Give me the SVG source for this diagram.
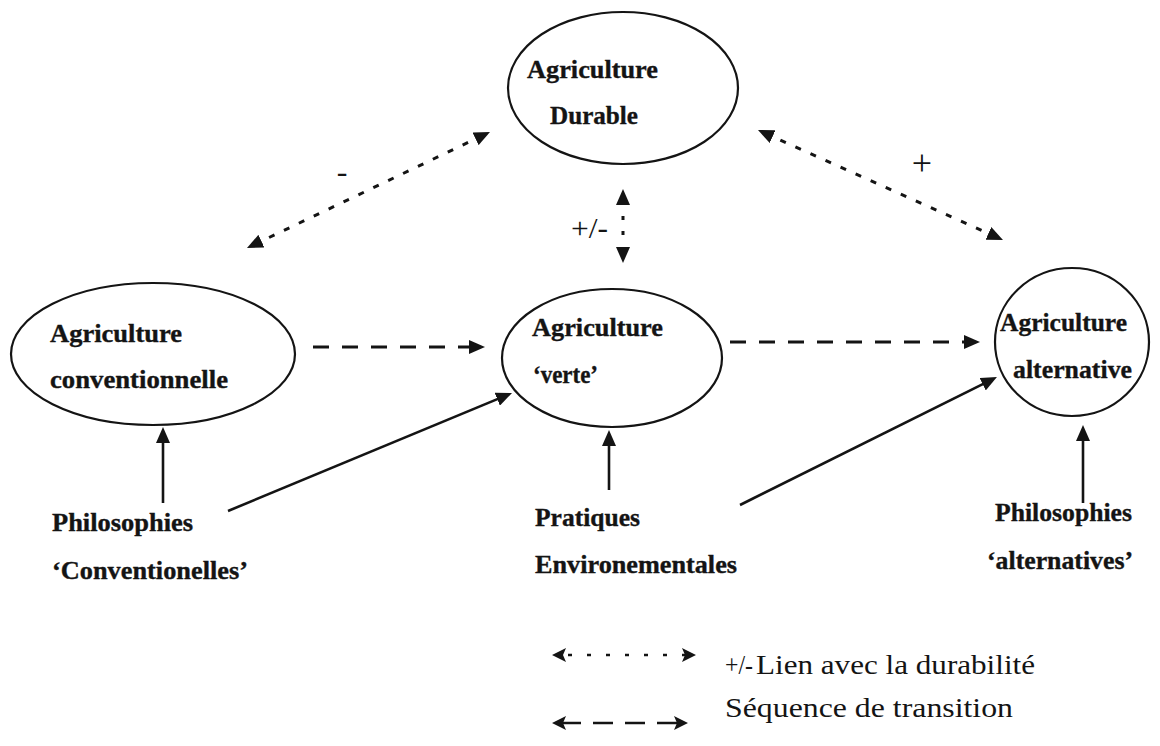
<svg xmlns="http://www.w3.org/2000/svg" width="1160" height="746" viewBox="0 0 1160 746">
  <style>
    .node { fill: none; stroke: #141414; stroke-width: 2.2; }
    .lbl { font-family: "Liberation Serif", "Times New Roman", serif; font-weight: bold; font-size: 25px; fill: #141414; stroke: #141414; stroke-width: 0.35; }
    .sign { font-family: "Liberation Serif", "Times New Roman", serif; fill: #141414; }
    .leg { font-family: "Liberation Serif", "Times New Roman", serif; font-size: 28px; fill: #141414; }
    .solid { stroke: #141414; stroke-width: 2.6; fill: none; }
    .dash { stroke: #141414; stroke-width: 3; fill: none; stroke-dasharray: 16 13; }
    .dot { stroke: #141414; stroke-width: 3; fill: none; stroke-dasharray: 6 10.5; }
  </style>
  <defs>
    <marker id="ah" viewBox="0 0 16 14" refX="8" refY="7" markerWidth="16" markerHeight="14" markerUnits="userSpaceOnUse" orient="auto-start-reverse">
      <path d="M0,0 L16,7 L0,14 Z" fill="#141414"/>
    </marker>
    <marker id="ahs" viewBox="0 0 14 14" refX="5" refY="7" markerWidth="14" markerHeight="14" markerUnits="userSpaceOnUse" orient="auto-start-reverse">
      <path d="M0,0 L14,7 L0,14 L3,7 Z" fill="#141414"/>
    </marker>
  </defs>

  <rect width="1160" height="746" fill="#ffffff"/>

  <!-- connectors -->
  <g id="connectors">
    <!-- sustainability links (dotted, both ends) -->
    <line class="dot" x1="254.2" y1="244.6" x2="482.8" y2="135.4" marker-start="url(#ah)" marker-end="url(#ah)"/>
    <line class="dot" x1="765.3" y1="133.3" x2="995.7" y2="236.7" marker-start="url(#ah)" marker-end="url(#ah)"/>
    <path d="M623,197 L623,255" stroke="#141414" stroke-width="3" fill="none" stroke-dasharray="0 19 4 11 4 100" marker-start="url(#ah)" marker-end="url(#ah)"/>
    <!-- transition sequence (dashed) -->
    <line class="dash" x1="313" y1="347" x2="477" y2="347" marker-end="url(#ah)"/>
    <line class="dash" x1="730" y1="342" x2="972" y2="342" marker-end="url(#ah)"/>
    <!-- influences (solid) -->
    <line class="solid" x1="163" y1="503" x2="163" y2="435" marker-end="url(#ah)"/>
    <line class="solid" x1="228" y1="511" x2="504.6" y2="396.1" marker-end="url(#ah)"/>
    <line class="solid" x1="609" y1="490" x2="609" y2="438" marker-end="url(#ah)"/>
    <line class="solid" x1="740" y1="505" x2="989.8" y2="380.6" marker-end="url(#ah)"/>
    <line class="solid" x1="1083" y1="503" x2="1083" y2="433" marker-end="url(#ah)"/>
    <!-- signs on links -->
    <text class="sign" x="342" y="182" font-size="32" text-anchor="middle">-</text>
    <text class="sign" x="922" y="175" font-size="36" text-anchor="middle">+</text>
    <text class="sign" x="571" y="238" font-size="30" textLength="37" lengthAdjust="spacingAndGlyphs">+/-</text>
  </g>

  <g id="durable">
    <ellipse class="node" cx="623" cy="88" rx="115" ry="76"/>
    <text class="lbl" x="527" y="78" textLength="131" lengthAdjust="spacingAndGlyphs">Agriculture</text>
    <text class="lbl" x="550" y="124" textLength="88" lengthAdjust="spacingAndGlyphs">Durable</text>
  </g>

  <g id="conventionnelle">
    <ellipse class="node" cx="153" cy="354" rx="142" ry="71"/>
    <text class="lbl" x="50" y="342" textLength="132" lengthAdjust="spacingAndGlyphs">Agriculture</text>
    <text class="lbl" x="50" y="388" textLength="178" lengthAdjust="spacingAndGlyphs">conventionnelle</text>
  </g>

  <g id="verte">
    <ellipse class="node" cx="612" cy="358" rx="110" ry="69"/>
    <text class="lbl" x="532" y="336" textLength="131" lengthAdjust="spacingAndGlyphs">Agriculture</text>
    <text class="lbl" x="533" y="383" textLength="65" lengthAdjust="spacingAndGlyphs">‘verte’</text>
  </g>

  <g id="alternative">
    <ellipse class="node" cx="1072" cy="342" rx="77" ry="74"/>
    <text class="lbl" x="1000" y="331" textLength="127" lengthAdjust="spacingAndGlyphs">Agriculture</text>
    <text class="lbl" x="1013" y="378" textLength="119" lengthAdjust="spacingAndGlyphs">alternative</text>
  </g>

  <g id="philo-conv">
    <text class="lbl" x="52" y="531" textLength="141" lengthAdjust="spacingAndGlyphs">Philosophies</text>
    <text class="lbl" x="52" y="579" textLength="196" lengthAdjust="spacingAndGlyphs">‘Conventionelles’</text>
  </g>

  <g id="pratiques">
    <text class="lbl" x="535" y="526" textLength="105" lengthAdjust="spacingAndGlyphs">Pratiques</text>
    <text class="lbl" x="535" y="573" textLength="202" lengthAdjust="spacingAndGlyphs">Environementales</text>
  </g>

  <g id="philo-alt">
    <text class="lbl" x="995" y="521" textLength="137" lengthAdjust="spacingAndGlyphs">Philosophies</text>
    <text class="lbl" x="987" y="569" textLength="146" lengthAdjust="spacingAndGlyphs">‘alternatives’</text>
  </g>

  <g id="legend">
    <line x1="561" y1="655" x2="687" y2="655" stroke="#141414" stroke-width="2.6" stroke-dasharray="0 7 4 8" marker-start="url(#ahs)" marker-end="url(#ahs)"/>
    <text class="leg" x="725" y="674" font-size="31" textLength="28" lengthAdjust="spacingAndGlyphs">+/-</text>
    <text class="leg" x="756" y="674" textLength="279" lengthAdjust="spacingAndGlyphs">Lien avec la durabilité</text>
    <line x1="561" y1="723" x2="679" y2="723" stroke="#141414" stroke-width="2.4" stroke-dasharray="20 12 20 12 20 12 40" marker-start="url(#ahs)" marker-end="url(#ahs)"/>
    <text class="leg" x="725" y="717" textLength="288" lengthAdjust="spacingAndGlyphs">Séquence de transition</text>
  </g>
</svg>
